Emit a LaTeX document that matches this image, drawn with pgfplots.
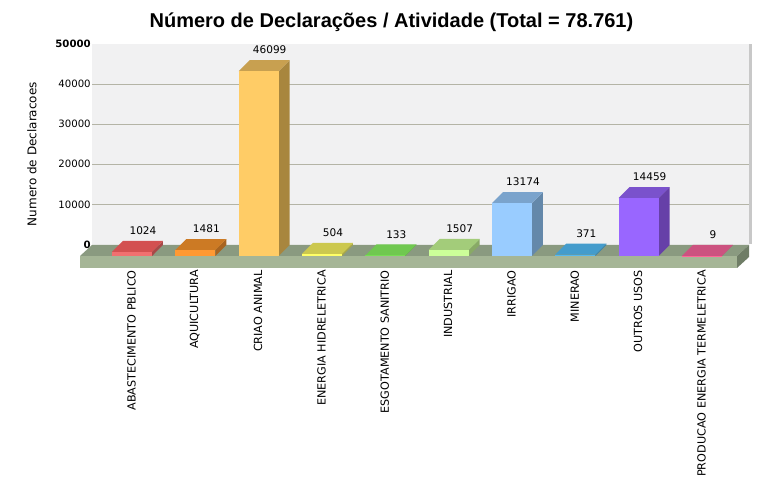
\documentclass[border=0pt]{standalone}
\usepackage{fontspec}
\setmainfont{DejaVu Sans}
\newfontfamily\titlefont{Liberation Sans}
\usepackage{pgfplots}
\pgfplotsset{compat=1.18}
\definecolor{floortop}{HTML}{8A9A80}
\definecolor{floorfront}{HTML}{A5B596}
\definecolor{floorside}{HTML}{6F7D66}
\definecolor{wallbg}{HTML}{F1F1F2}
\definecolor{wallside}{HTML}{C8C8C8}
\definecolor{gridc}{HTML}{B4B4A6}
\definecolor{aF}{HTML}{F07070}\definecolor{aT}{HTML}{D35050}\definecolor{aS}{HTML}{A84848}
\definecolor{bF}{HTML}{FF9933}\definecolor{bT}{HTML}{CC7A24}\definecolor{bS}{HTML}{A86420}
\definecolor{cF}{HTML}{FFCC66}\definecolor{cT}{HTML}{C8A050}\definecolor{cS}{HTML}{A8863E}
\definecolor{dF}{HTML}{FFFF66}\definecolor{dT}{HTML}{CCC84E}\definecolor{dS}{HTML}{AAA844}
\definecolor{eF}{HTML}{77DD55}\definecolor{eT}{HTML}{70C850}\definecolor{eS}{HTML}{5EA844}
\definecolor{fF}{HTML}{CCFF99}\definecolor{fT}{HTML}{A3CC7A}\definecolor{fS}{HTML}{88AA66}
\definecolor{gF}{HTML}{99CCFF}\definecolor{gT}{HTML}{7AA3CC}\definecolor{gS}{HTML}{6488AA}
\definecolor{hF}{HTML}{55B8F0}\definecolor{hT}{HTML}{449CCC}\definecolor{hS}{HTML}{3C84AA}
\definecolor{iF}{HTML}{9966FF}\definecolor{iT}{HTML}{7A52CC}\definecolor{iS}{HTML}{6640A8}
\definecolor{jF}{HTML}{FF6699}\definecolor{jT}{HTML}{CC5280}\definecolor{jS}{HTML}{AA4468}
% #1 category, #2 #3 front left/right, #4 #5 back left/right, #6 value, #7 value plus depth, #8 colour prefix
\newcommand\threed[8]{%
  \addplot[fill=#8S,draw=none] coordinates {(#3,0) (#5,2743) (#5,#7) (#3,#6) (#3,0)};
  \addplot[fill=#8T,draw=none] coordinates {(#2,#6) (#3,#6) (#5,#7) (#4,#7) (#2,#6)};
  \addplot[ybar,bar width=30pt,bar shift=0pt,fill=#8F,draw=none,nodes near coords] coordinates {(#1,#6)};
}
\begin{document}
\begin{tikzpicture}
\path[use as bounding box] (0,0) rectangle (587.25pt,362.25pt);
\fill[white] (0,0) rectangle (587.25pt,362.25pt);
\node[font=\titlefont\bfseries\fontsize{15pt}{17pt}\selectfont] at (293.6pt,345.75pt) {Número de Declarações / Atividade (Total = 78.761)};
% wall right edge
\fill[wallside] (561.75pt,179.25pt) rectangle (564pt,329.25pt);
% back-plane axis: y scale and gridlines
\begin{axis}[
  at={(69pt,178.5pt)},anchor=south west,scale only axis,
  width=492.75pt,height=150.4pt,
  xmin=0,xmax=1,ymin=0,ymax=50000,
  axis background/.style={fill=wallbg},
  axis line style={draw=none},
  tick style={draw=none},
  xtick=\empty,
  ytick={10000,20000,30000,40000},
  ymajorgrids,
  grid style={draw=gridc,line width=0.75pt},
  extra y ticks={0,50000},
  extra y tick style={grid=none,yticklabel style={font=\fontsize{7.6pt}{9pt}\selectfont\bfseries}},
  scaled y ticks=false,
  /pgf/number format/1000 sep={},
  /pgf/number format/assume math mode=true,
  yticklabel style={font=\fontsize{7.6pt}{9pt}\selectfont,inner sep=1pt,xshift=0.2pt,yshift=0.4pt},
  ylabel={Numero de Declaracoes},
  every axis y label/.style={at={(axis description cs:-0.0913,0.453)},rotate=90,anchor=center,font=\fontsize{9pt}{10pt}\selectfont},
]
\end{axis}
% floor
\fill[floortop] (60pt,170.25pt) -- (69pt,178.5pt) -- (561.75pt,178.5pt) -- (552.75pt,170.25pt) -- cycle;
\fill[floorside] (552.75pt,170.25pt) -- (561.75pt,178.5pt) -- (561.75pt,169.5pt) -- (552.75pt,161.25pt) -- cycle;
\fill[floorfront] (60pt,161.25pt) rectangle (552.75pt,170.25pt);
% front-plane axis: bars
\begin{axis}[
  at={(60pt,170.25pt)},anchor=south west,scale only axis,
  width=492.75pt,height=150.4pt,
  xmin=-0.821,xmax=9.553,ymin=0,ymax=50000,
  clip=false,
  axis line style={draw=none},
  tick style={draw=none},
  ytick=\empty,
  xtick={0,1,2,3,4,5,6,7,8,9},
  xticklabels={ABASTECIMENTO PBLICO,AQUICULTURA,CRIAO ANIMAL,ENERGIA HIDRELETRICA,ESGOTAMENTO SANITRIO,INDUSTRIAL,IRRIGAO,MINERAO,OUTROS USOS,PRODUCAO ENERGIA TERMELETRICA},
  xticklabel style={rotate=90,anchor=east,inner sep=0pt,font=\fontsize{8.4pt}{9pt}\selectfont,yshift=0.4pt,xshift=-10.5pt},
  /pgf/number format/1000 sep={},
  /pgf/number format/assume math mode=true,
  every node near coord/.append style={font=\fontsize{7.9pt}{9pt}\selectfont,inner sep=0pt,anchor=south,xshift=8.25pt,yshift=12.6pt,text=black},
]
\threed{0}{-0.3158}{0.3158}{-0.1421}{0.4895}{1024}{3767}{a}
\threed{1}{0.6842}{1.3158}{0.8579}{1.4895}{1481}{4224}{b}
\threed{2}{1.6842}{2.3158}{1.8579}{2.4895}{46099}{48842}{c}
\threed{3}{2.6842}{3.3158}{2.8579}{3.4895}{504}{3247}{d}
\threed{4}{3.6842}{4.3158}{3.8579}{4.4895}{133}{2876}{e}
\threed{5}{4.6842}{5.3158}{4.8579}{5.4895}{1507}{4250}{f}
\threed{6}{5.6842}{6.3158}{5.8579}{6.4895}{13174}{15917}{g}
\threed{7}{6.6842}{7.3158}{6.8579}{7.4895}{371}{3114}{h}
\threed{8}{7.6842}{8.3158}{7.8579}{8.4895}{14459}{17202}{i}
\threed{9}{8.6842}{9.3158}{8.8579}{9.4895}{9}{2752}{j}
\end{axis}
\end{tikzpicture}
\end{document}
